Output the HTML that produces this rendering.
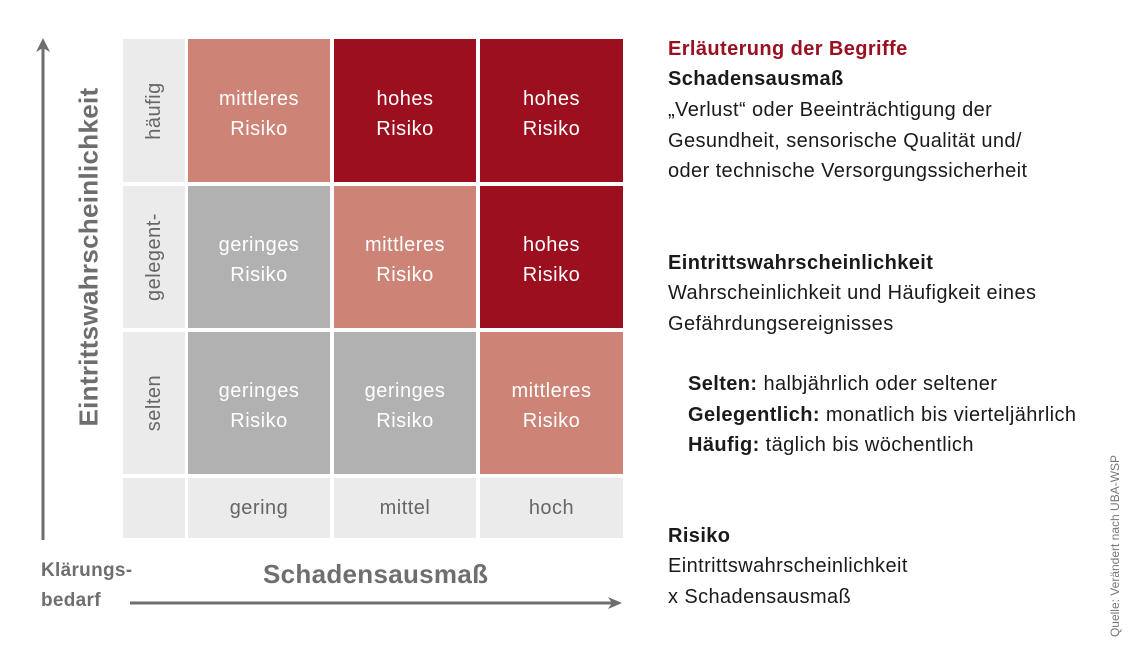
<!DOCTYPE html>
<html><head><meta charset="utf-8"><style>
body{margin:0;width:1140px;height:651px;background:#fff;position:relative;overflow:hidden;font-family:"Liberation Sans",Arial,sans-serif}
.a{position:absolute}
.c{position:absolute;display:flex;align-items:center;justify-content:center;text-align:center;color:#fff;font-size:20px;letter-spacing:0.5px;line-height:30px;box-sizing:border-box;padding-top:6px}
.d{background:#9b0f1e}.l{background:#cd8477}.g{background:#b1b1b1}.e{background:#ebebeb;color:#666}
.r{transform:rotate(-90deg);white-space:nowrap;color:#666;font-size:20px;letter-spacing:0.5px}
.t{position:absolute;left:668px;font-size:20px;letter-spacing:0.4px;color:#1a1a1a;line-height:30.5px;white-space:nowrap}
b{font-weight:bold}
</style></head><body>
<div class="c e" style="left:123px;top:39px;width:62px;height:143px;padding-top:0"><div class="r">häufig</div></div>
<div class="c e" style="left:123px;top:186px;width:62px;height:142px;padding-top:0"><div class="r">gelegent-</div></div>
<div class="c e" style="left:123px;top:332px;width:62px;height:142px;padding-top:0"><div class="r">selten</div></div>
<div class="c e" style="left:123px;top:478px;width:62px;height:60px"></div>
<div class="c l" style="left:188px;top:39px;width:142px;height:143px">mittleres<br>Risiko</div>
<div class="c d" style="left:334px;top:39px;width:142px;height:143px">hohes<br>Risiko</div>
<div class="c d" style="left:480px;top:39px;width:143px;height:143px">hohes<br>Risiko</div>
<div class="c g" style="left:188px;top:186px;width:142px;height:142px">geringes<br>Risiko</div>
<div class="c l" style="left:334px;top:186px;width:142px;height:142px">mittleres<br>Risiko</div>
<div class="c d" style="left:480px;top:186px;width:143px;height:142px">hohes<br>Risiko</div>
<div class="c g" style="left:188px;top:332px;width:142px;height:142px">geringes<br>Risiko</div>
<div class="c g" style="left:334px;top:332px;width:142px;height:142px">geringes<br>Risiko</div>
<div class="c l" style="left:480px;top:332px;width:143px;height:142px">mittleres<br>Risiko</div>
<div class="c e" style="left:188px;top:478px;width:142px;height:60px;padding-top:0">gering</div>
<div class="c e" style="left:334px;top:478px;width:142px;height:60px;padding-top:0">mittel</div>
<div class="c e" style="left:480px;top:478px;width:143px;height:60px;padding-top:0">hoch</div>
<svg class="a" style="left:0;top:0" width="640" height="651">
<line x1="43" y1="44" x2="43" y2="540" stroke="#6e6e6e" stroke-width="3"/>
<polygon points="36,52 43,38 50,52 43,48" fill="#6e6e6e"/>
<line x1="130" y1="603" x2="614" y2="603" stroke="#6e6e6e" stroke-width="3"/>
<polygon points="608,597 622,603 608,609 612,603" fill="#6e6e6e"/>
</svg>
<div class="a" style="left:89px;top:257px;transform:translate(-50%,-50%) rotate(-90deg);font-size:26px;letter-spacing:0.3px;font-weight:bold;color:#6e6e6e;white-space:nowrap">Eintrittswahrscheinlichkeit</div>
<div class="a" style="left:263px;top:559px;font-size:26px;letter-spacing:0.3px;font-weight:bold;color:#6e6e6e">Schadensausmaß</div>
<div class="a" style="left:41px;top:556px;font-size:19px;letter-spacing:0.3px;font-weight:bold;color:#6e6e6e;line-height:30px">Klärungs-<br>bedarf</div>
<div class="t" style="top:34px;color:#9b1020;font-weight:bold">Erläuterung der Begriffe</div>
<div class="t" style="top:64px;font-weight:bold">Schadensausmaß</div>
<div class="t" style="top:95px">„Verlust“ oder Beeinträchtigung der<br>Gesundheit, sensorische Qualität und/<br>oder technische Versorgungssicherheit</div>
<div class="t" style="top:248px;font-weight:bold">Eintrittswahrscheinlichkeit</div>
<div class="t" style="top:278px">Wahrscheinlichkeit und Häufigkeit eines<br>Gefährdungsereignisses</div>
<div class="t" style="left:688px;top:369px"><b>Selten:</b> halbjährlich oder seltener<br><b>Gelegentlich:</b> monatlich bis vierteljährlich<br><b>Häufig:</b> täglich bis wöchentlich</div>
<div class="t" style="top:521px;font-weight:bold">Risiko</div>
<div class="t" style="top:551px">Eintrittswahrscheinlichkeit<br>x Schadensausmaß</div>
<div class="a" style="left:1115px;top:546px;transform:translate(-50%,-50%) rotate(-90deg);font-size:12px;color:#777;white-space:nowrap">Quelle: Verändert nach UBA-WSP</div>
</body></html>
